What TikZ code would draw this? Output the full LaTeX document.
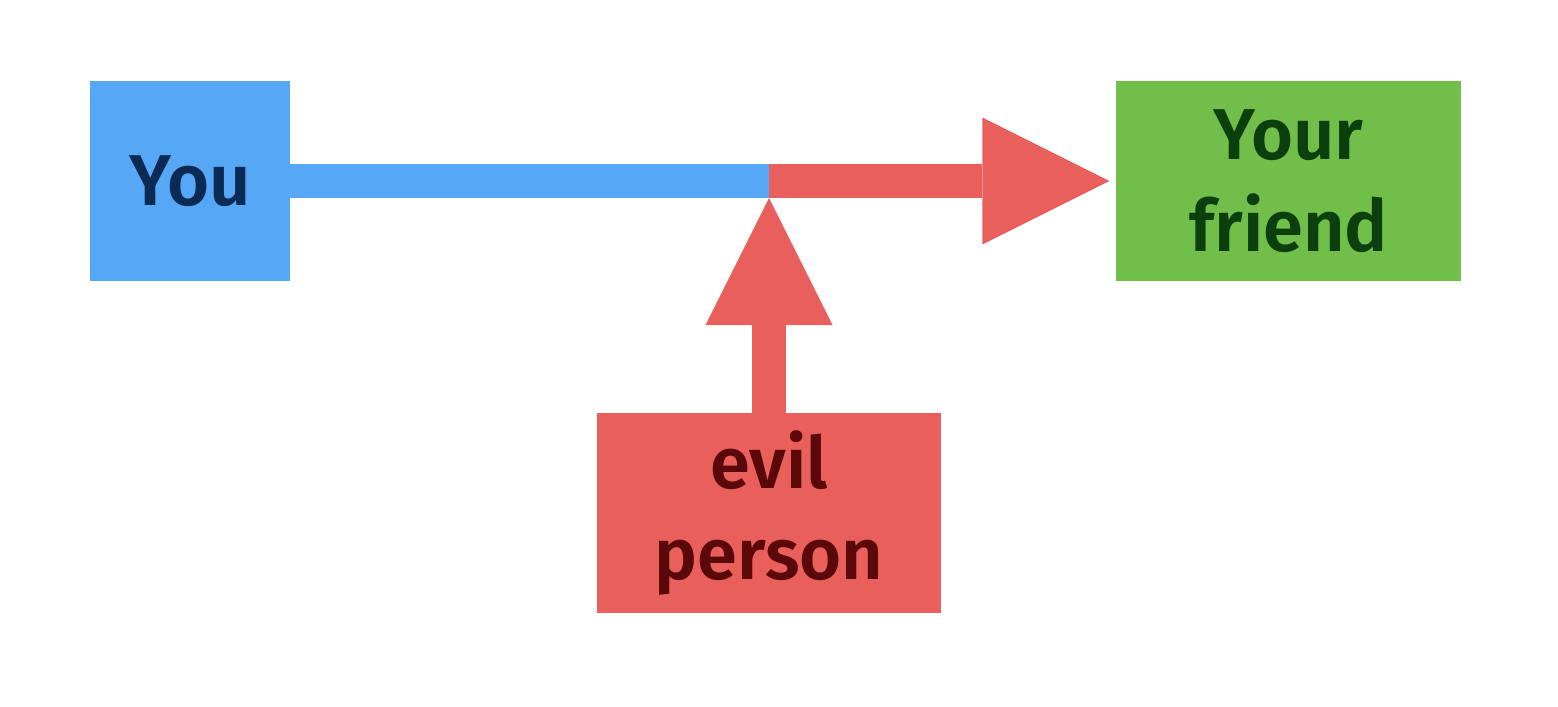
\documentclass[tikz,border=0pt]{standalone}
\usepackage{fontspec}
\setmainfont{Fira Sans}[BoldFont={Fira Sans SemiBold}]
\usetikzlibrary{arrows.meta}

\definecolor{youblue}{HTML}{56A8F6}
\definecolor{youtext}{HTML}{0B2B55}
\definecolor{friendgreen}{HTML}{72BE4A}
\definecolor{friendtext}{HTML}{0B400E}
\definecolor{evilred}{HTML}{E95F5C}
\definecolor{eviltext}{HTML}{5A080A}

\begin{document}
\begin{tikzpicture}[
  box/.style={rectangle, minimum height=2cm, inner sep=0pt, align=center,
    font=\fontsize{20.5}{26}\selectfont\bfseries},
  fat/.style={line width=0.34cm},
  bighead/.style={-{Triangle[length=1.27cm, width=1.27cm, line width=0pt]}}
]
\useasboundingbox (0,0) rectangle (15.58,7.06);

\node[box, fill=youblue, text=youtext, minimum width=2cm] (you) at (1.9,5.25) {You};
\node[box, fill=friendgreen, text=friendtext, minimum width=3.45cm] (friend) at (12.885,5.25) {Your\\friend};
\node[box, fill=evilred, text=eviltext, minimum width=3.44cm] (evil) at (7.69,1.93) {evil\\person};

\coordinate (mid) at (7.69,5.25);
\coordinate (hit) at (7.69,5.08);

\draw[fat, youblue, shorten <=-0.02cm] (you.east) -- (mid);
\draw[fat, evilred, bighead, shorten >=0.06cm] (mid) -- (friend.west);
\draw[fat, evilred, bighead, shorten <=-0.02cm] (evil.north) -- (hit);

\end{tikzpicture}
\end{document}
